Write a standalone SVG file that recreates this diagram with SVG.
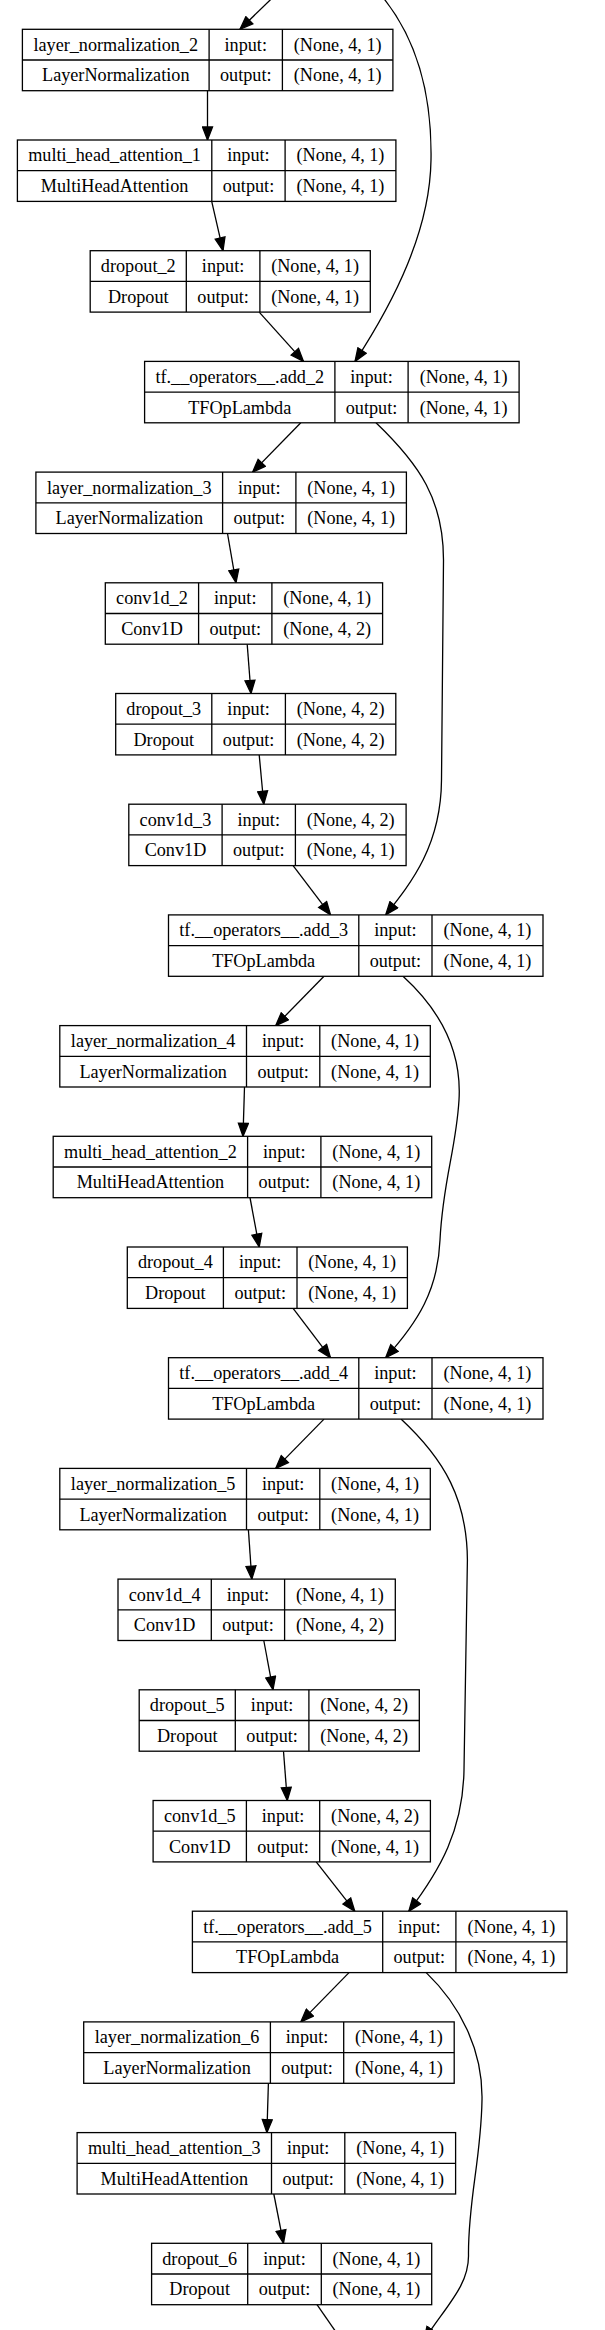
<svg xmlns="http://www.w3.org/2000/svg" width="605" height="2330" viewBox="0 0 605 2330">
<style>
.box{fill:#fff;stroke:#000;stroke-width:1.3}
.ln{fill:none;stroke:#000;stroke-width:1.3}
.t{font-family:"Liberation Serif","Times New Roman",serif;font-size:18.2px;text-anchor:middle;fill:#000}
.e{fill:none;stroke:#000;stroke-width:1.3;marker-end:url(#ah)}
</style>
<defs>
<marker id="ah" markerUnits="userSpaceOnUse" viewBox="-1 -6 15 12" refX="13" refY="0" markerWidth="15" markerHeight="12" orient="auto">
<path d="M0,-5 L13,0 L0,5 Z" fill="#000" stroke="#000" stroke-width="1.3"/>
</marker>
</defs>
<rect width="605" height="2330" fill="#fff"/>
<g id="edges">
<path class="e" d="M284.6,-14 L240,29.3"/>
<path class="e" d="M372,-15 C420,35 432,100 431,160 C430,230 395,300 355,361.4"/>
<path class="e" d="M207.5,90.7 L207.5,140"/>
<path class="e" d="M211.7,201.4 L223,250.7"/>
<path class="e" d="M259.2,312.1 L303.5,361.4"/>
<path class="e" d="M300.8,422.8 L252.6,472.1"/>
<path class="e" d="M376,422.8 C420,465 443.5,500 443.5,560 L441.5,780 C441,845 412,882 385.7,914.9"/>
<path class="e" d="M227.5,533.5 L236,582.8"/>
<path class="e" d="M247.2,644.2 L251,693.5"/>
<path class="e" d="M259.2,754.9 L263.8,804.2"/>
<path class="e" d="M293.1,865.6 L330.5,914.9"/>
<path class="e" d="M324,976.3 L275.7,1025.6"/>
<path class="e" d="M403,976.3 C440,1010 462,1050 459,1100 C456,1150 443,1180 440,1240 C438,1290 418,1322 385.7,1357.7"/>
<path class="e" d="M244.5,1087 L243,1136.3"/>
<path class="e" d="M250,1197.7 L259.2,1247"/>
<path class="e" d="M293.1,1308.4 L330.5,1357.7"/>
<path class="e" d="M324,1419.1 L275.7,1468.4"/>
<path class="e" d="M401,1419.1 C445,1460 467,1500 467.4,1560 L464,1770 C463,1830 440,1870 408.8,1911.2"/>
<path class="e" d="M248.4,1529.8 L251.8,1579.1"/>
<path class="e" d="M263.8,1640.5 L273,1689.8"/>
<path class="e" d="M283.5,1751.2 L287.3,1800.5"/>
<path class="e" d="M316.2,1861.9 L354.8,1911.2"/>
<path class="e" d="M349,1972.6 L300.8,2021.9"/>
<path class="e" d="M426.2,1972.6 C460,2005 483,2050 482,2100 C481,2160 468,2200 468.5,2255 C469,2285 447,2305 424,2340"/>
<path class="e" d="M268.4,2083.3 L266.9,2132.6"/>
<path class="e" d="M273.8,2194 L283.5,2243.3"/>
<path class="e" d="M317,2304.7 L345,2345"/>
</g>
<g id="layer_normalization_2">
<rect class="box" x="22.4" y="29.3" width="370.5" height="61.4"/>
<path class="ln" d="M22.4,60 H392.9 M209.1,29.3 V90.7 M282.4,29.3 V90.7"/>
<text class="t" x="115.75" y="50.7">layer_normalization_2</text>
<text class="t" x="115.75" y="81.4">LayerNormalization</text>
<text class="t" x="245.75" y="50.7">input:</text>
<text class="t" x="245.75" y="81.4">output:</text>
<text class="t" x="337.65" y="50.7">(None, 4, 1)</text>
<text class="t" x="337.65" y="81.4">(None, 4, 1)</text>
</g>
<g id="multi_head_attention_1">
<rect class="box" x="17.4" y="140" width="378.5" height="61.4"/>
<path class="ln" d="M17.4,170.7 H395.9 M211.8,140 V201.4 M285.1,140 V201.4"/>
<text class="t" x="114.6" y="161.4">multi_head_attention_1</text>
<text class="t" x="114.6" y="192.1">MultiHeadAttention</text>
<text class="t" x="248.45" y="161.4">input:</text>
<text class="t" x="248.45" y="192.1">output:</text>
<text class="t" x="340.5" y="161.4">(None, 4, 1)</text>
<text class="t" x="340.5" y="192.1">(None, 4, 1)</text>
</g>
<g id="dropout_2">
<rect class="box" x="90.2" y="250.7" width="280.1" height="61.4"/>
<path class="ln" d="M90.2,281.4 H370.3 M186.3,250.7 V312.1 M259.9,250.7 V312.1"/>
<text class="t" x="138.25" y="272.1">dropout_2</text>
<text class="t" x="138.25" y="302.8">Dropout</text>
<text class="t" x="223.1" y="272.1">input:</text>
<text class="t" x="223.1" y="302.8">output:</text>
<text class="t" x="315.1" y="272.1">(None, 4, 1)</text>
<text class="t" x="315.1" y="302.8">(None, 4, 1)</text>
</g>
<g id="add_2">
<rect class="box" x="144.6" y="361.4" width="374.5" height="61.4"/>
<path class="ln" d="M144.6,392.1 H519.1 M334.9,361.4 V422.8 M408.1,361.4 V422.8"/>
<text class="t" x="239.75" y="382.8">tf.__operators__.add_2</text>
<text class="t" x="239.75" y="413.5">TFOpLambda</text>
<text class="t" x="371.5" y="382.8">input:</text>
<text class="t" x="371.5" y="413.5">output:</text>
<text class="t" x="463.6" y="382.8">(None, 4, 1)</text>
<text class="t" x="463.6" y="413.5">(None, 4, 1)</text>
</g>
<g id="layer_normalization_3">
<rect class="box" x="35.9" y="472.1" width="370.5" height="61.4"/>
<path class="ln" d="M35.9,502.8 H406.4 M222.6,472.1 V533.5 M295.9,472.1 V533.5"/>
<text class="t" x="129.25" y="493.5">layer_normalization_3</text>
<text class="t" x="129.25" y="524.2">LayerNormalization</text>
<text class="t" x="259.25" y="493.5">input:</text>
<text class="t" x="259.25" y="524.2">output:</text>
<text class="t" x="351.15" y="493.5">(None, 4, 1)</text>
<text class="t" x="351.15" y="524.2">(None, 4, 1)</text>
</g>
<g id="conv1d_2">
<rect class="box" x="105.3" y="582.8" width="277.3" height="61.4"/>
<path class="ln" d="M105.3,613.5 H382.6 M198.6,582.8 V644.2 M271.9,582.8 V644.2"/>
<text class="t" x="151.95" y="604.2">conv1d_2</text>
<text class="t" x="151.95" y="634.9">Conv1D</text>
<text class="t" x="235.25" y="604.2">input:</text>
<text class="t" x="235.25" y="634.9">output:</text>
<text class="t" x="327.25" y="604.2">(None, 4, 1)</text>
<text class="t" x="327.25" y="634.9">(None, 4, 2)</text>
</g>
<g id="dropout_3">
<rect class="box" x="115.7" y="693.5" width="280.1" height="61.4"/>
<path class="ln" d="M115.7,724.2 H395.8 M211.8,693.5 V754.9 M285.4,693.5 V754.9"/>
<text class="t" x="163.75" y="714.9">dropout_3</text>
<text class="t" x="163.75" y="745.6">Dropout</text>
<text class="t" x="248.6" y="714.9">input:</text>
<text class="t" x="248.6" y="745.6">output:</text>
<text class="t" x="340.6" y="714.9">(None, 4, 2)</text>
<text class="t" x="340.6" y="745.6">(None, 4, 2)</text>
</g>
<g id="conv1d_3">
<rect class="box" x="128.8" y="804.2" width="277.3" height="61.4"/>
<path class="ln" d="M128.8,834.9 H406.1 M222.1,804.2 V865.6 M295.4,804.2 V865.6"/>
<text class="t" x="175.45" y="825.6">conv1d_3</text>
<text class="t" x="175.45" y="856.3">Conv1D</text>
<text class="t" x="258.75" y="825.6">input:</text>
<text class="t" x="258.75" y="856.3">output:</text>
<text class="t" x="350.75" y="825.6">(None, 4, 2)</text>
<text class="t" x="350.75" y="856.3">(None, 4, 1)</text>
</g>
<g id="add_3">
<rect class="box" x="168.5" y="914.9" width="374.5" height="61.4"/>
<path class="ln" d="M168.5,945.6 H543 M358.8,914.9 V976.3 M432,914.9 V976.3"/>
<text class="t" x="263.65" y="936.3">tf.__operators__.add_3</text>
<text class="t" x="263.65" y="967">TFOpLambda</text>
<text class="t" x="395.4" y="936.3">input:</text>
<text class="t" x="395.4" y="967">output:</text>
<text class="t" x="487.5" y="936.3">(None, 4, 1)</text>
<text class="t" x="487.5" y="967">(None, 4, 1)</text>
</g>
<g id="layer_normalization_4">
<rect class="box" x="59.8" y="1025.6" width="370.5" height="61.4"/>
<path class="ln" d="M59.8,1056.3 H430.3 M246.5,1025.6 V1087 M319.8,1025.6 V1087"/>
<text class="t" x="153.15" y="1047">layer_normalization_4</text>
<text class="t" x="153.15" y="1077.7">LayerNormalization</text>
<text class="t" x="283.15" y="1047">input:</text>
<text class="t" x="283.15" y="1077.7">output:</text>
<text class="t" x="375.05" y="1047">(None, 4, 1)</text>
<text class="t" x="375.05" y="1077.7">(None, 4, 1)</text>
</g>
<g id="multi_head_attention_2">
<rect class="box" x="53.2" y="1136.3" width="378.5" height="61.4"/>
<path class="ln" d="M53.2,1167 H431.7 M247.6,1136.3 V1197.7 M320.9,1136.3 V1197.7"/>
<text class="t" x="150.4" y="1157.7">multi_head_attention_2</text>
<text class="t" x="150.4" y="1188.4">MultiHeadAttention</text>
<text class="t" x="284.25" y="1157.7">input:</text>
<text class="t" x="284.25" y="1188.4">output:</text>
<text class="t" x="376.3" y="1157.7">(None, 4, 1)</text>
<text class="t" x="376.3" y="1188.4">(None, 4, 1)</text>
</g>
<g id="dropout_4">
<rect class="box" x="127.3" y="1247" width="280.1" height="61.4"/>
<path class="ln" d="M127.3,1277.7 H407.4 M223.4,1247 V1308.4 M297,1247 V1308.4"/>
<text class="t" x="175.35" y="1268.4">dropout_4</text>
<text class="t" x="175.35" y="1299.1">Dropout</text>
<text class="t" x="260.2" y="1268.4">input:</text>
<text class="t" x="260.2" y="1299.1">output:</text>
<text class="t" x="352.2" y="1268.4">(None, 4, 1)</text>
<text class="t" x="352.2" y="1299.1">(None, 4, 1)</text>
</g>
<g id="add_4">
<rect class="box" x="168.5" y="1357.7" width="374.5" height="61.4"/>
<path class="ln" d="M168.5,1388.4 H543 M358.8,1357.7 V1419.1 M432,1357.7 V1419.1"/>
<text class="t" x="263.65" y="1379.1">tf.__operators__.add_4</text>
<text class="t" x="263.65" y="1409.8">TFOpLambda</text>
<text class="t" x="395.4" y="1379.1">input:</text>
<text class="t" x="395.4" y="1409.8">output:</text>
<text class="t" x="487.5" y="1379.1">(None, 4, 1)</text>
<text class="t" x="487.5" y="1409.8">(None, 4, 1)</text>
</g>
<g id="layer_normalization_5">
<rect class="box" x="59.8" y="1468.4" width="370.5" height="61.4"/>
<path class="ln" d="M59.8,1499.1 H430.3 M246.5,1468.4 V1529.8 M319.8,1468.4 V1529.8"/>
<text class="t" x="153.15" y="1489.8">layer_normalization_5</text>
<text class="t" x="153.15" y="1520.5">LayerNormalization</text>
<text class="t" x="283.15" y="1489.8">input:</text>
<text class="t" x="283.15" y="1520.5">output:</text>
<text class="t" x="375.05" y="1489.8">(None, 4, 1)</text>
<text class="t" x="375.05" y="1520.5">(None, 4, 1)</text>
</g>
<g id="conv1d_4">
<rect class="box" x="118" y="1579.1" width="277.3" height="61.4"/>
<path class="ln" d="M118,1609.8 H395.3 M211.3,1579.1 V1640.5 M284.6,1579.1 V1640.5"/>
<text class="t" x="164.65" y="1600.5">conv1d_4</text>
<text class="t" x="164.65" y="1631.2">Conv1D</text>
<text class="t" x="247.95" y="1600.5">input:</text>
<text class="t" x="247.95" y="1631.2">output:</text>
<text class="t" x="339.95" y="1600.5">(None, 4, 1)</text>
<text class="t" x="339.95" y="1631.2">(None, 4, 2)</text>
</g>
<g id="dropout_5">
<rect class="box" x="139.2" y="1689.8" width="280.1" height="61.4"/>
<path class="ln" d="M139.2,1720.5 H419.3 M235.3,1689.8 V1751.2 M308.9,1689.8 V1751.2"/>
<text class="t" x="187.25" y="1711.2">dropout_5</text>
<text class="t" x="187.25" y="1741.9">Dropout</text>
<text class="t" x="272.1" y="1711.2">input:</text>
<text class="t" x="272.1" y="1741.9">output:</text>
<text class="t" x="364.1" y="1711.2">(None, 4, 2)</text>
<text class="t" x="364.1" y="1741.9">(None, 4, 2)</text>
</g>
<g id="conv1d_5">
<rect class="box" x="153.1" y="1800.5" width="277.3" height="61.4"/>
<path class="ln" d="M153.1,1831.2 H430.4 M246.4,1800.5 V1861.9 M319.7,1800.5 V1861.9"/>
<text class="t" x="199.75" y="1821.9">conv1d_5</text>
<text class="t" x="199.75" y="1852.6">Conv1D</text>
<text class="t" x="283.05" y="1821.9">input:</text>
<text class="t" x="283.05" y="1852.6">output:</text>
<text class="t" x="375.05" y="1821.9">(None, 4, 2)</text>
<text class="t" x="375.05" y="1852.6">(None, 4, 1)</text>
</g>
<g id="add_5">
<rect class="box" x="192.4" y="1911.2" width="374.5" height="61.4"/>
<path class="ln" d="M192.4,1941.9 H566.9 M382.7,1911.2 V1972.6 M455.9,1911.2 V1972.6"/>
<text class="t" x="287.55" y="1932.6">tf.__operators__.add_5</text>
<text class="t" x="287.55" y="1963.3">TFOpLambda</text>
<text class="t" x="419.3" y="1932.6">input:</text>
<text class="t" x="419.3" y="1963.3">output:</text>
<text class="t" x="511.4" y="1932.6">(None, 4, 1)</text>
<text class="t" x="511.4" y="1963.3">(None, 4, 1)</text>
</g>
<g id="layer_normalization_6">
<rect class="box" x="83.7" y="2021.9" width="370.5" height="61.4"/>
<path class="ln" d="M83.7,2052.6 H454.2 M270.4,2021.9 V2083.3 M343.7,2021.9 V2083.3"/>
<text class="t" x="177.05" y="2043.3">layer_normalization_6</text>
<text class="t" x="177.05" y="2074">LayerNormalization</text>
<text class="t" x="307.05" y="2043.3">input:</text>
<text class="t" x="307.05" y="2074">output:</text>
<text class="t" x="398.95" y="2043.3">(None, 4, 1)</text>
<text class="t" x="398.95" y="2074">(None, 4, 1)</text>
</g>
<g id="multi_head_attention_3">
<rect class="box" x="77.1" y="2132.6" width="378.5" height="61.4"/>
<path class="ln" d="M77.1,2163.3 H455.6 M271.5,2132.6 V2194 M344.8,2132.6 V2194"/>
<text class="t" x="174.3" y="2154">multi_head_attention_3</text>
<text class="t" x="174.3" y="2184.7">MultiHeadAttention</text>
<text class="t" x="308.15" y="2154">input:</text>
<text class="t" x="308.15" y="2184.7">output:</text>
<text class="t" x="400.2" y="2154">(None, 4, 1)</text>
<text class="t" x="400.2" y="2184.7">(None, 4, 1)</text>
</g>
<g id="dropout_6">
<rect class="box" x="151.6" y="2243.3" width="280.1" height="61.4"/>
<path class="ln" d="M151.6,2274 H431.7 M247.7,2243.3 V2304.7 M321.3,2243.3 V2304.7"/>
<text class="t" x="199.65" y="2264.7">dropout_6</text>
<text class="t" x="199.65" y="2295.4">Dropout</text>
<text class="t" x="284.5" y="2264.7">input:</text>
<text class="t" x="284.5" y="2295.4">output:</text>
<text class="t" x="376.5" y="2264.7">(None, 4, 1)</text>
<text class="t" x="376.5" y="2295.4">(None, 4, 1)</text>
</g>
</svg>
